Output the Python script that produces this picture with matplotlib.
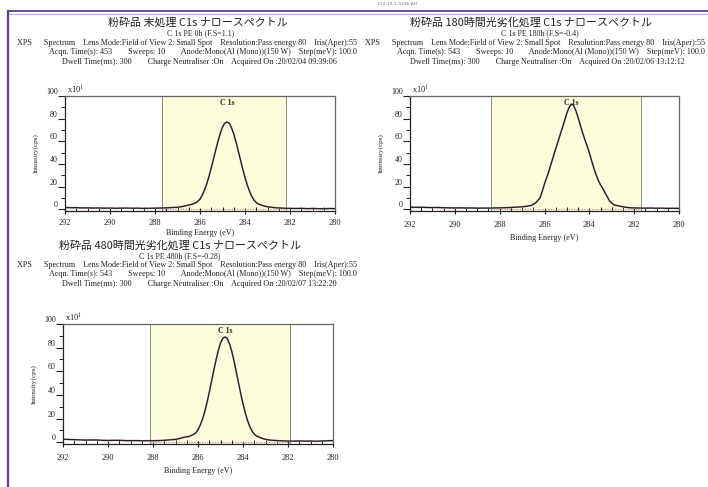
import matplotlib
matplotlib.use("Agg")
import matplotlib.pyplot as plt
from matplotlib.ticker import MultipleLocator
from matplotlib.transforms import Bbox, TransformedBbox
from matplotlib.lines import Line2D

# ---------------- data ----------------
BE = [292.0, 291.75, 291.5, 291.25, 291.0, 290.75, 290.5, 290.25, 290.0, 289.75,
      289.5, 289.25, 289.0, 288.75, 288.5, 288.25, 288.0, 287.75, 287.5, 287.25, 287.0,
      286.8, 286.6, 286.4, 286.2,
      286.1, 286.0, 285.9, 285.8, 285.7, 285.6, 285.5, 285.4, 285.3, 285.2, 285.1,
      285.0, 284.9, 284.8, 284.7, 284.6, 284.5, 284.4, 284.3, 284.2, 284.1, 284.0,
      283.9, 283.8, 283.7, 283.6, 283.5, 283.4, 283.3, 283.2, 283.1, 283.0, 282.9,
      282.8, 282.6, 282.4, 282.2,
      282.0, 281.75, 281.5, 281.25, 281.0, 280.75, 280.5, 280.25, 280.0]

int_0h = [1.6, 1.4, 1.5, 1.2, 1.3, 1.1, 1.2, 1.0, 1.1, 0.9, 1.0, 1.1, 0.9, 1.0, 0.8, 0.9, 1.0, 1.1, 1.3, 1.5, 1.8,
          2.4, 3.3, 4.2, 5.6,
          7.0, 9.0, 12.5, 17.0, 22.5, 29.0, 36.5, 44.5, 52.5, 60.0, 67.0,
          72.5, 76.0, 77.0, 76.0, 72.0, 66.5, 59.5, 51.5, 43.5, 35.5, 28.0,
          21.5, 16.0, 11.5, 8.2, 6.0, 4.6, 3.8, 3.2, 2.7, 2.2, 1.9,
          1.7, 1.3, 1.1, 0.9,
          0.8, 0.7, 0.8, 0.6, 0.7, 0.6, 0.5, 0.7, 0.6]

int_180h = [1.9, 1.7, 1.8, 1.6, 1.5, 1.6, 1.4, 1.3, 1.2, 1.3, 1.1, 1.2, 1.0, 1.1, 1.0, 1.2, 1.3, 1.4, 1.6, 1.9, 2.2,
            2.7, 3.3, 5.5, 10.0,
            16.0, 22.5, 28.0, 34.0, 40.5, 47.0, 53.5, 59.5, 66.0, 72.0, 78.5,
            85.0, 90.0, 93.0, 91.5, 87.0, 81.0, 74.0, 67.5, 61.5, 56.0, 50.0,
            43.0, 36.5, 30.5, 25.5, 21.5, 18.5, 14.5, 11.0, 7.5, 5.5, 4.0,
            3.4, 2.6, 1.8, 1.4,
            1.2, 1.1, 1.0, 1.1, 0.9, 1.0, 0.8, 0.9, 0.8]

int_480h = [2.6, 2.3, 2.2, 2.0, 1.8, 1.9, 1.9, 1.6, 1.5, 1.6, 1.6, 1.4, 1.3, 1.4, 1.2, 1.3, 1.3, 1.4, 1.6, 2.0, 2.4,
            3.2, 4.3, 4.9, 6.5,
            8.0, 10.4, 14.5, 19.6, 26.0, 33.5, 42.2, 51.4, 60.7, 69.4, 77.5,
            83.8, 87.9, 89.0, 87.8, 83.2, 76.9, 68.8, 59.5, 50.3, 41.0, 32.4,
            24.9, 18.5, 13.3, 9.5, 6.9, 5.3, 4.4, 3.6, 3.0, 2.5, 2.1,
            1.8, 1.5, 1.3, 1.1,
            1.0, 0.9, 1.1, 0.9, 1.0, 0.8, 1.0, 1.2, 1.4]

regions = [(287.7, 282.2), (288.4, 281.7), (288.15, 281.9)]
peak_pos = [284.8, 284.8, 284.8]
baseline_level = 0.4
x_ticks = [292, 290, 288, 286, 284, 282, 280]
y_ticks = [0, 20, 40, 60, 80, 100]

titles = ["粉砕品 末処理 C1s ナロースペクトル",
          "粉砕品 180時間光劣化処理 C1s ナロースペクトル",
          "粉砕品 480時間光劣化処理 C1s ナロースペクトル"]
subtitles = ["C 1s PE 0h (F.S=1.1)", "C 1s PE 180h (F.S=-0.4)", "C 1s PE 480h (F.S=-0.28)"]
line3 = "XPS      Spectrum    Lens Mode:Field of View 2: Small Spot    Resolution:Pass energy 80    Iris(Aper):55"
line4 = ["Acqn. Time(s): 453        Sweeps: 10        Anode:Mono(Al (Mono))(150 W)    Step(meV): 100.0",
         "Acqn. Time(s): 543        Sweeps: 10        Anode:Mono(Al (Mono))(150 W)    Step(meV): 100.0",
         "Acqn. Time(s): 543        Sweeps: 10        Anode:Mono(Al (Mono))(150 W)    Step(meV): 100.0"]
line5 = ["Dwell Time(ms): 300        Charge Neutraliser :On    Acquired On :20/02/04 09:39:06",
         "Dwell Time(ms): 300        Charge Neutraliser :On    Acquired On :20/02/06 13:12:12",
         "Dwell Time(ms): 300        Charge Neutraliser :On    Acquired On :20/02/07 13:22:20"]
series = [int_0h, int_180h, int_480h]

# ---------------- layout (pixels) ----------------
W, H = 708, 487
plt.rcParams['mathtext.fontset'] = 'stix'
SERIF = ['Liberation Serif', 'DejaVu Serif']
CJK = ['Noto Sans CJK JP', 'DejaVu Sans']
INK = '#222222'

fig = plt.figure(figsize=(W / 100, H / 100), dpi=100)
fig.patch.set_facecolor('white')

def fx(x):
    return x / W

def fy(y):
    return 1 - y / H

# page decorations
fig.add_artist(Line2D([fx(8), 1], [fy(11), fy(11)], color='#5e3f8f', lw=1.3))
fig.add_artist(Line2D([fx(8), 1], [fy(13.5), fy(13.5)], color='#b9a9d8', lw=0.8))
fig.add_artist(Line2D([fx(8), fx(8)], [fy(11), 0], color='#5e3f8f', lw=1.6))
fig.text(fx(397), fy(4), "272-19-1-0296 AH", fontsize=3.2, color='#777777',
         ha='center', va='center', family=['DejaVu Sans'])

panels = [
    dict(box=(65, 96, 335, 211), tx=198, ty=23, sx=201, sy=33, l3=17, l4=49, l5=62,
         y3=43, y4=52, y5=62, clip=359, xpad=1.5),
    dict(box=(410, 96, 679, 211), tx=531, ty=23, sx=540, sy=33, l3=365, l4=397, l5=410,
         y3=43, y4=52, y5=62, clip=708, xpad=3),
    dict(box=(63, 324, 333, 444), tx=180, ty=246, sx=180, sy=256, l3=17, l4=49, l5=62,
         y3=265, y4=274, y5=284, clip=360, xpad=3),
]

for i, p in enumerate(panels):
    clipbox = TransformedBbox(Bbox.from_extents(0, 0, fx(p['clip']), 1), fig.transFigure)
    fig.text(fx(p['tx']), fy(p['ty']), titles[i], fontsize=7.9, family=CJK,
             ha='center', va='center', color=INK)
    fig.text(fx(p['sx']), fy(p['sy']), subtitles[i], fontsize=5.7, family=SERIF,
             ha='center', va='center', color=INK)
    for txt, xx, yy in [(line3, p['l3'], p['y3']), (line4[i], p['l4'], p['y4']), (line5[i], p['l5'], p['y5'])]:
        t = fig.text(fx(xx), fy(yy), txt, fontsize=5.85, family=SERIF,
                     ha='left', va='center', color=INK)
        t.set_clip_box(clipbox)
        t.set_clip_on(True)

    x0, y0, x1, y1 = p['box']
    ax = fig.add_axes([fx(x0), fy(y1), (x1 - x0) / W, (y1 - y0) / H])
    ax.set_xlim(292, 280)
    ax.set_ylim(-1.5, 100)
    lo, hi = regions[i]
    ax.axvspan(hi, lo, color='#fdfcdc', zorder=0)
    ax.axvline(lo, color='#8a8a80', lw=0.7, zorder=1)
    ax.axvline(hi, color='#8a8a80', lw=0.7, zorder=1)
    ax.plot([lo, hi], [baseline_level, baseline_level], color='#9a7fa8', lw=0.7, ls=':', zorder=2)
    ax.plot(BE, series[i], color='#d9a8c8', lw=1.3, zorder=2)
    ax.plot(BE, series[i], color='#1e1e1e', lw=0.9, zorder=3)
    ax.text(peak_pos[i], 0.975, "C 1s", transform=ax.get_xaxis_transform(),
            ha='center', va='top', fontsize=5.6, family=SERIF, fontweight='bold', color=INK)
    ax.text(0.006, 1.0, r"x10$^{1}$", transform=ax.transAxes, ha='left', va='bottom',
            fontsize=6, family=SERIF, color=INK)

    ax.set_xticks(x_ticks)
    ax.xaxis.set_minor_locator(MultipleLocator(0.5))
    ax.set_yticks(y_ticks)
    ax.yaxis.set_minor_locator(MultipleLocator(10))
    ax.tick_params(axis='x', which='major', direction='inout', length=5, width=0.8,
                   labelsize=6, pad=p['xpad'] + 2, colors=INK)
    ax.tick_params(axis='x', which='minor', direction='in', length=3, width=0.7, colors=INK)
    ax.tick_params(axis='y', which='major', direction='out', length=5, width=0.8,
                   labelsize=5.8, pad=0.3, colors=INK)
    ax.tick_params(axis='y', which='minor', direction='out', length=3, width=0.7, colors=INK)
    for lbl in ax.get_xticklabels() + ax.get_yticklabels():
        lbl.set_family(SERIF)
    plt.setp(ax.get_yticklabels(), va='bottom')
    for s in ['left', 'bottom']:
        ax.spines[s].set_color(INK)
        ax.spines[s].set_linewidth(0.9)
    for s in ['top', 'right']:
        ax.spines[s].set_color('#666666')
        ax.spines[s].set_linewidth(0.9)
    ax.set_xlabel("Binding Energy (eV)", fontsize=5.9, family=SERIF, labelpad=p['xpad'], color=INK)
    ax.set_ylabel("Intensity(cps)", fontsize=5.2, family=SERIF, labelpad=5, color=INK)

fig.savefig("out.png", dpi=100, facecolor='white')
